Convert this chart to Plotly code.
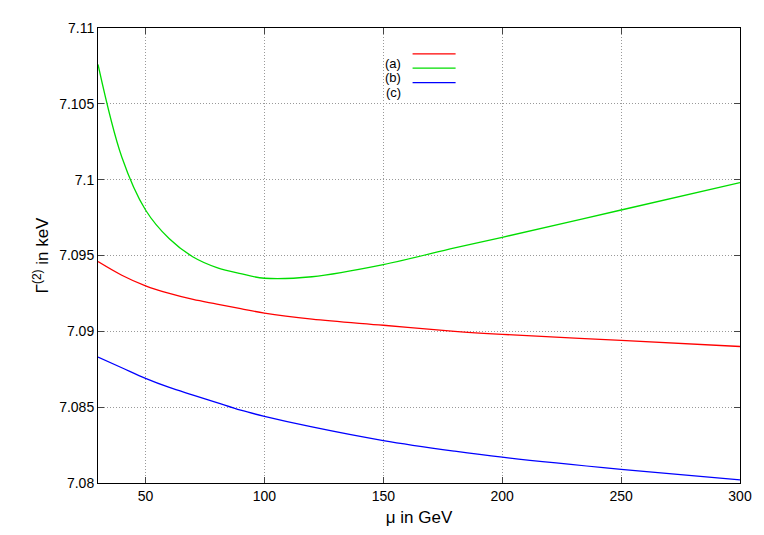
import plotly.graph_objects as go

mu = [30, 40, 50, 60, 70, 80, 90, 100, 120, 150, 180, 200, 250, 300]
gamma_a = [7.0946, 7.0937, 7.0930, 7.0925, 7.0921, 7.0918, 7.0915, 7.0912, 7.0908, 7.0904,
           7.0900, 7.0898, 7.0894, 7.0890]
gamma_b = [7.1076, 7.1015, 7.0980, 7.0961, 7.0949, 7.0942, 7.0938, 7.0935, 7.0936, 7.0944,
           7.0955, 7.0962, 7.0980, 7.0998]
gamma_c = [7.0883, 7.0876, 7.0869, 7.0863, 7.0858, 7.0853, 7.0848, 7.0844, 7.0837, 7.0828,
           7.0821, 7.0817, 7.0809, 7.0802]

series = [("(a)", gamma_a, "#ff0000"), ("(b)", gamma_b, "#00dd00"), ("(c)", gamma_c, "#0000ff")]
legend_y = [0.943, 0.912, 0.880]

fig = go.Figure()
for (name, ys, color), ly in zip(series, legend_y):
    fig.add_trace(go.Scatter(x=mu, y=ys, name=name, mode="lines", showlegend=False,
                             line=dict(color=color, width=1.3, shape="spline", smoothing=1.0)))
    # gnuplot style key: label on the left, sample line on the right
    fig.add_annotation(xref="paper", yref="paper", x=0.475, y=ly, text=name,
                       showarrow=False, xanchor="right", font=dict(size=13))
    fig.add_shape(type="line", xref="paper", yref="paper", x0=0.49, x1=0.557, y0=ly, y1=ly,
                  line=dict(color=color, width=1.3))

axis_common = dict(showline=True, linecolor="black", linewidth=1, mirror="ticks",
                   ticks="inside", ticklen=6, showgrid=True, gridcolor="#999999",
                   griddash="1px,2px", gridwidth=1, zeroline=False)
fig.update_xaxes(range=[30, 300], tickvals=[50, 100, 150, 200, 250, 300],
                 title=dict(text="μ in GeV", standoff=8), **axis_common)
fig.update_yaxes(range=[7.08, 7.11], tickvals=[7.08, 7.085, 7.09, 7.095, 7.1, 7.105, 7.11],
                 ticktext=["7.08", "7.085", "7.09", "7.095", "7.1", "7.105", "7.11"],
                 title=dict(text="Γ<sup>(2)</sup> in keV", standoff=6), **axis_common)
fig.update_layout(
    width=764, height=535,
    margin=dict(l=90, r=32, t=17, b=60),
    plot_bgcolor="white", paper_bgcolor="white",
    font=dict(family="Liberation Sans, Arial", size=14, color="black"),
    showlegend=False,
)
fig.write_html("out.html")
